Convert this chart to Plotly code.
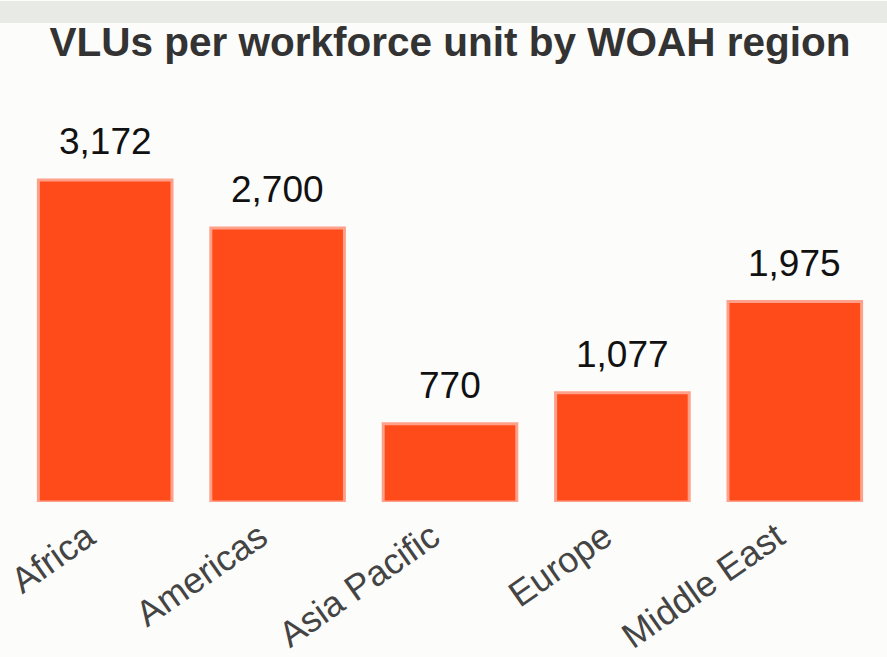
import plotly.graph_objects as go

regions = ["Africa", "Americas", "Asia Pacific", "Europe", "Middle East"]
vlus = [3172, 2700, 770, 1077, 1975]

title_text = "VLUs per workforce unit by WOAH region"
FONT = "Liberation Sans, Arial, sans-serif"
BAR_COLOR = "#FF4B19"
BAR_EDGE = "#FFA08A"
BG = "#FCFCFA"
BAND = "#E8EAE5"

W, H = 887, 657
ML, MR, MT, MB = 19, 6, 100, 155
plot_h = H - MT - MB

fig = go.Figure()
fig.add_trace(go.Bar(
    x=regions, y=vlus,
    marker=dict(color=BAR_COLOR, line=dict(color=BAR_EDGE, width=3)),
    hoverinfo="x+y",
))

for r, v in zip(regions, vlus):
    fig.add_annotation(
        x=r, y=v, text=f"{v:,}", showarrow=False,
        yanchor="bottom", yshift=16,
        font=dict(family=FONT, size=37, color="#111111"),
    )

# light band at the very top of the card
fig.add_shape(type="rect", xref="paper", yref="paper",
              x0=-0.1, x1=1.1,
              y0=(H - MB - 23) / plot_h, y1=(H - MB - 1) / plot_h,
              fillcolor=BAND, line=dict(width=0), layer="below")

fig.update_layout(
    width=W, height=H,
    margin=dict(l=ML, r=MR, t=MT, b=MB, pad=0, autoexpand=False),
    paper_bgcolor=BG, plot_bgcolor=BG,
    showlegend=False,
    bargap=0.225,
    title=dict(text=f"<b>{title_text}</b>", x=0.5, xref="paper",
               y=1 - 28 / H, yref="container", yanchor="top",
               font=dict(family=FONT, size=40.5, color="#333333")),
    xaxis=dict(tickangle=-35, showline=False, showgrid=False, zeroline=False,
               automargin=False, ticks="", ticklabelshift=-18,
               ticklabelstandoff=6,
               tickfont=dict(family=FONT, size=36, color="#444444")),
    yaxis=dict(visible=False, range=[0, plot_h / (322 / 3172)], showgrid=False,
               zeroline=False, automargin=False),
)

fig.write_html("out.html",
               config={"displayModeBar": False},
               post_script="document.body.style.margin='0';"
                           "document.body.style.overflow='hidden';")
